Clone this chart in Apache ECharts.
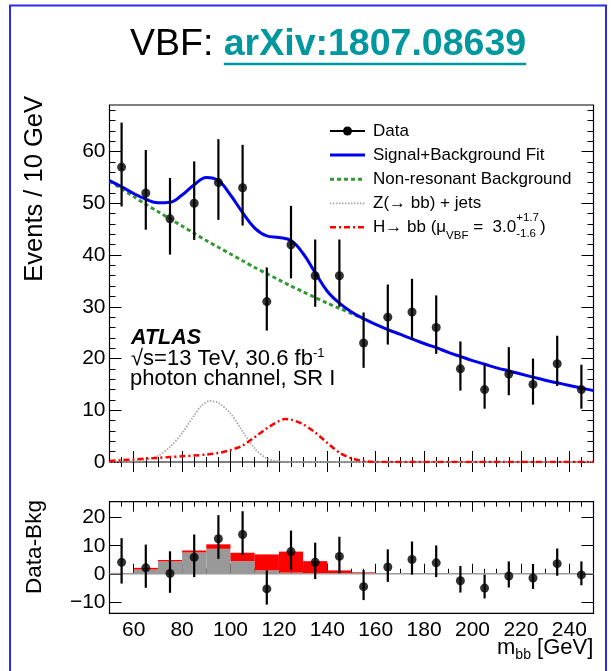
<!DOCTYPE html>
<html><head><meta charset="utf-8">
<script src="https://cdn.jsdelivr.net/npm/echarts@6/dist/echarts.min.js"></script>
<style>html,body{margin:0;padding:0;background:#fff}#c{width:611px;height:671px}</style>
</head><body><div id="c"></div>
<script>
// ---------------- data ----------------
const massCenters = [55,65,75,85,95,105,115,125,135,145,155,165,175,185,195,205,215,225,235,245];
const dataEvents  = [57,52,47,50,54,53,31,42,36,36,23,28,29,26,18,14,17,15,19,14];
const errUp       = [8.6,8.3,7.9,8.1,8.4,8.3,6.6,7.5,7.0,7.0,5.9,6.3,6.4,6.2,5.3,4.8,5.2,5.0,5.4,4.8];
const errDown     = [7.6,7.1,6.9,7.1,7.2,7.3,5.6,6.5,6.0,6.0,4.8,5.3,5.4,5.1,4.2,3.7,4.1,3.9,4.3,3.7];

const fitMass = [50,55,60,65,70,75,80,85,90,95,100,105,110,115,120,125,130,135,140,145,150,155,160,165,170,175,180,185,190,195,200,205,210,215,220,225,230,235,240,245,250];
const fitSB   = [54.4,53.2,51.9,50.8,50.1,50.2,51.6,53.6,55.0,54.4,51.6,48.2,45.2,43.7,43.4,42.8,40.3,36.6,33.0,30.7,29.0,27.7,26.6,25.6,24.7,23.8,22.9,22.1,21.2,20.4,19.6,18.9,18.2,17.6,17.0,16.4,15.8,15.3,14.8,14.3,13.8];

const bkgMass   = [50,55,60,65,70,75,80,85,90,95,100,105,110,115,120,125,130,135,140,145,150,155];
const bkgValues = [54.3,52.8,51.3,49.8,48.4,47.0,45.6,44.2,42.8,41.5,40.2,38.9,37.6,36.4,35.2,34.0,32.9,31.8,30.7,29.7,28.7,27.7];

const zMass   = [50,55,60,65,70,75,80,85,88,91.5,95,100,105,110,115,120,125,130,250];
const zValues = [0,0.05,0.15,0.45,1.2,2.9,5.6,9.0,10.9,11.8,11.4,9.4,5.9,2.6,0.7,0.15,0.03,0,0];

const hMass   = [50,55,60,65,70,75,80,85,90,95,100,105,110,115,120,122.5,125,130,135,140,145,150,155,160,250];
const hValues = [0.2,0.35,0.5,0.65,0.8,0.95,1.1,1.25,1.45,1.75,2.3,3.2,4.8,6.5,7.9,8.3,8.2,7.3,5.7,3.7,1.8,0.7,0.2,0,0];

const residual = [4.1,2.1,0.1,5.9,12.5,14.0,-5.4,7.9,4.1,6.2,-4.6,2.4,5.1,3.9,-2.5,-5.1,-0.8,-1.5,3.6,-0.4];

const binEdges = [50,60,70,80,90,100,110,120,130,140,150,160,170,180,190,200,210,220,230,240,250];
const zBins = [0.2,1.5,4.4,7.6,8.9,4.5,1.2,0.4,0.1,0,0,0,0,0,0,0,0,0,0,0];
const hBins = [0.1,0.6,0.5,0.7,1.6,3.0,5.7,7.5,4.4,1.2,0.5,0.2,0.2,0.2,0.2,0.2,0.2,0.2,0.2,0.2];

const upperYTicks = [0,10,20,30,40,50,60];
const lowerYTicks = [-10,0,10,20];
const xTickLabels = [60,80,100,120,140,160,180,200,220,240];

// ---------------- layout helpers ----------------
const FONT = '"Liberation Sans", Arial, sans-serif';
const ctx = document.createElement('canvas').getContext('2d');
function tw(t, size, weight, style) {
  ctx.font = (style || 'normal') + ' ' + (weight || 'normal') + ' ' + size + 'px "Liberation Sans"';
  return ctx.measureText(t).width;
}
const minorX = [];
for (let v = 55; v < 250; v += 5) if (v % 20 !== 0) minorX.push(v);
const minorYUp = [];
for (let v = 2; v < 69; v += 2) if (v % 10 !== 0) minorYUp.push(v);

function axis(gridIndex, position, min, max, ticks, len, label) {
  return {
    type: 'value', gridIndex, position, min, max,
    axisLine: { show: false }, splitLine: { show: false },
    axisTick: { show: true, inside: true, length: len, customValues: ticks, lineStyle: { color: '#000', width: 1 } },
    axisLabel: label ? Object.assign({ customValues: ticks, color: '#000', fontSize: 21, fontFamily: FONT,
      formatter: v => String(v).replace('-', '\u2212') }, label) : { show: false }
  };
}

const G0 = { left: 109.5, top: 105, width: 484, height: 357 };
const G1 = { left: 109.5, top: 501.7, width: 484, height: 111.6 };

const xAxes = [
  axis(0, 'bottom', 50, 250, xTickLabels, 11),
  axis(0, 'bottom', 50, 250, minorX, 5),
  axis(0, 'top', 50, 250, xTickLabels, 10),
  axis(0, 'top', 50, 250, minorX, 5),
  axis(1, 'bottom', 50, 250, xTickLabels, 10, { margin: 6 }),
  axis(1, 'bottom', 50, 250, minorX, 5),
  axis(1, 'top', 50, 250, xTickLabels, 10),
  axis(1, 'top', 50, 250, minorX, 5)
];
const yAxes = [
  axis(0, 'left', 0, 69, upperYTicks, 12, { margin: 4 }),
  axis(0, 'left', 0, 69, minorYUp, 6),
  axis(0, 'right', 0, 69, upperYTicks, 12),
  axis(0, 'right', 0, 69, minorYUp, 6),
  axis(1, 'left', -14.1, 25.7, lowerYTicks, 12, { margin: 4 }),
  axis(1, 'right', -14.1, 25.7, lowerYTicks, 12)
];

function pairs(xs, ys) { return xs.map((x, i) => [x, ys[i]]); }

function errRender(params, api) {
  const x = api.value(0), lo = api.value(1), hi = api.value(2);
  const a = api.coord([x, lo]), b = api.coord([x, hi]);
  return { type: 'line', shape: { x1: a[0], y1: a[1], x2: b[0], y2: b[1] }, style: { stroke: '#000', lineWidth: 2.2 } };
}
function histRender(color) {
  return function (params, api) {
    const p0 = api.coord([api.value(0), api.value(2)]);
    const p1 = api.coord([api.value(1), api.value(3)]);
    return { type: 'rect', shape: { x: p0[0], y: p1[1], width: p1[0] - p0[0], height: p0[1] - p1[1] }, style: { fill: color } };
  };
}
const grayHist = zBins.map((z, i) => [binEdges[i], binEdges[i + 1], 0, z]);
const redHist = hBins.map((h, i) => [binEdges[i], binEdges[i + 1], zBins[i], zBins[i] + h]);

const series = [
  { type: 'line', xAxisIndex: 0, yAxisIndex: 0, data: pairs(zMass, zValues), smooth: 0.3, symbol: 'none',
    lineStyle: { color: '#a8a8a8', width: 1.8, type: [1.5, 1.5] }, z: 2 },
  { type: 'line', xAxisIndex: 0, yAxisIndex: 0, data: pairs(hMass, hValues), smooth: 0.3, symbol: 'none',
    lineStyle: { color: '#ff0000', width: 2.5, type: [6, 3, 2, 3] }, z: 3 },
  { type: 'line', xAxisIndex: 0, yAxisIndex: 0, data: pairs(bkgMass, bkgValues), smooth: 0.3, symbol: 'none',
    lineStyle: { color: '#339a33', width: 3, type: [4, 3] }, z: 4 },
  { type: 'line', xAxisIndex: 0, yAxisIndex: 0, data: pairs(fitMass, fitSB), smooth: 0.4, symbol: 'none',
    lineStyle: { color: '#0000f0', width: 3 }, z: 5 },
  { type: 'custom', xAxisIndex: 0, yAxisIndex: 0, renderItem: errRender,
    data: massCenters.map((m, i) => [m, dataEvents[i] - errDown[i], dataEvents[i] + errUp[i]]), encode: { x: 0, y: [1, 2] }, z: 6 },
  { type: 'scatter', xAxisIndex: 0, yAxisIndex: 0, data: pairs(massCenters, dataEvents), symbolSize: 9,
    itemStyle: { color: '#000' }, z: 7 },

  { type: 'custom', xAxisIndex: 4, yAxisIndex: 4, renderItem: histRender('#999999'), data: grayHist, encode: { x: [0, 1], y: [2, 3] }, z: 2 },
  { type: 'custom', xAxisIndex: 4, yAxisIndex: 4, renderItem: histRender('#ff0000'), data: redHist, encode: { x: [0, 1], y: [2, 3] }, z: 3 },
  { type: 'line', xAxisIndex: 4, yAxisIndex: 4, data: [[50, 0], [250, 0]], symbol: 'none',
    lineStyle: { color: '#9a9a9a', width: 1.5 }, z: 4 },
  { type: 'custom', xAxisIndex: 4, yAxisIndex: 4, renderItem: errRender,
    data: massCenters.map((m, i) => [m, residual[i] - errDown[i], residual[i] + errUp[i]]), encode: { x: 0, y: [1, 2] }, z: 6 },
  { type: 'scatter', xAxisIndex: 4, yAxisIndex: 4, data: pairs(massCenters, residual), symbolSize: 9,
    itemStyle: { color: '#000' }, z: 7 }
];

// ---------------- text / decorations ----------------
function txt(x, y, text, size, opts) {
  opts = opts || {};
  return {
    type: 'text', x, y, rotation: opts.rotation || 0, z: 100,
    style: { text, fontSize: size, fontFamily: FONT, fontWeight: opts.weight || 'normal', fontStyle: opts.style || 'normal',
      fill: opts.color || '#000', align: opts.align || 'left', textAlign: opts.align || 'left',
      verticalAlign: 'middle', textVerticalAlign: 'middle' }
  };
}
function seg(x1, y1, x2, y2, color, width, dash) {
  return { type: 'line', z: 100, shape: { x1, y1, x2, y2 }, style: { stroke: color, lineWidth: width, lineDash: dash || null } };
}

const g = [];
// blue slide border
g.push({ type: 'rect', z: 0, shape: { x: 10, y: 5.5, width: 596, height: 700 }, style: { fill: null, stroke: '#2b2bf0', lineWidth: 2 } });

// title
const tSize = 37.5;
const tX = 130, tY = 45;
const wVBF = tw('VBF: ', tSize);
const wArx = tw('arXiv:1807.08639', tSize, 'bold');
g.push(txt(tX, tY, 'VBF: ', tSize));
g.push(txt(tX + wVBF, tY, 'arXiv:1807.08639', tSize, { weight: 'bold', color: '#00979f' }));
g.push(seg(tX + wVBF, 64, tX + wVBF + wArx, 64, '#00979f', 2.5));

// axis titles
g.push(txt(35, 96, 'Events / 10 GeV', 25.5, { rotation: Math.PI / 2, align: 'right' }));
g.push(txt(35, 547, 'Data-Bkg', 22.5, { rotation: Math.PI / 2, align: 'center' }));
// m_bb [GeV]
const wGeV = tw(' [GeV]', 22);
const wbb = tw('bb', 14);
g.push(txt(593.3, 648, ' [GeV]', 22, { align: 'right' }));
g.push(txt(593.3 - wGeV, 655, 'bb', 14, { align: 'right' }));
g.push(txt(593.3 - wGeV - wbb, 648, 'm', 22, { align: 'right' }));

// ATLAS label
g.push(txt(131, 338, 'ATLAS', 21.5, { weight: 'bold', style: 'italic' }));
const l2 = '\u221as=13 TeV, 30.6 fb';
g.push(txt(131, 359, l2, 22));
g.push(txt(131 + tw(l2, 22), 353, '-1', 13));
g.push(txt(130, 379, 'photon channel, SR I', 22));

// legend
const LX0 = 330, LX1 = 365, LT = 373, LS = 17;
const rows = [131, 155, 179.3, 203.3, 227.3];
g.push(seg(LX0, rows[0], LX1, rows[0], '#000', 2));
g.push({ type: 'circle', z: 100, shape: { cx: (LX0 + LX1) / 2, cy: rows[0], r: 4.5 }, style: { fill: '#000' } });
g.push(txt(LT, rows[0], 'Data', LS));
g.push(seg(LX0, rows[1], LX1, rows[1], '#0000f0', 3));
g.push(txt(LT, rows[1], 'Signal+Background Fit', LS));
g.push(seg(LX0, rows[2], LX1, rows[2], '#339a33', 3, [4, 3]));
g.push(txt(LT, rows[2], 'Non-resonant Background', LS));
g.push(seg(LX0, rows[3], LX1, rows[3], '#a8a8a8', 1.8, [1.5, 1.5]));
g.push(txt(LT, rows[3], 'Z(\u2192 bb) + jets', LS));
g.push(seg(LX0, rows[4], LX1, rows[4], '#ff0000', 2.5, [6, 3, 2, 3]));
const hMain = 'H\u2192 bb (\u03bc';
let hx = LT;
g.push(txt(hx, rows[4], hMain, LS)); hx += tw(hMain, LS);
g.push(txt(hx, rows[4] + 9, 'VBF', 11.5)); hx += tw('VBF', 11.5);
const hEq = ' =  3.0';
g.push(txt(hx, rows[4], hEq, LS)); hx += tw(hEq, LS);
g.push(txt(hx, rows[4] - 9.5, '+1.7', 11.5));
g.push(txt(hx, rows[4] + 7, '-1.6', 11.5)); hx += tw('+1.7', 11.5) + 1;
g.push(txt(hx, rows[4], ')', LS));

const chart = echarts.init(document.getElementById('c'), null, { renderer: 'canvas' });
chart.setOption({
  animation: false,
  backgroundColor: '#fff',
  grid: [
    Object.assign({ show: true, borderColor: '#000', borderWidth: 1.2, backgroundColor: 'transparent', outerBoundsMode: 'none' }, G0),
    Object.assign({ show: true, borderColor: '#000', borderWidth: 1.2, backgroundColor: 'transparent', outerBoundsMode: 'none' }, G1)
  ],
  xAxis: xAxes,
  yAxis: yAxes,
  series,
  graphic: g
});
</script>
</body></html>
